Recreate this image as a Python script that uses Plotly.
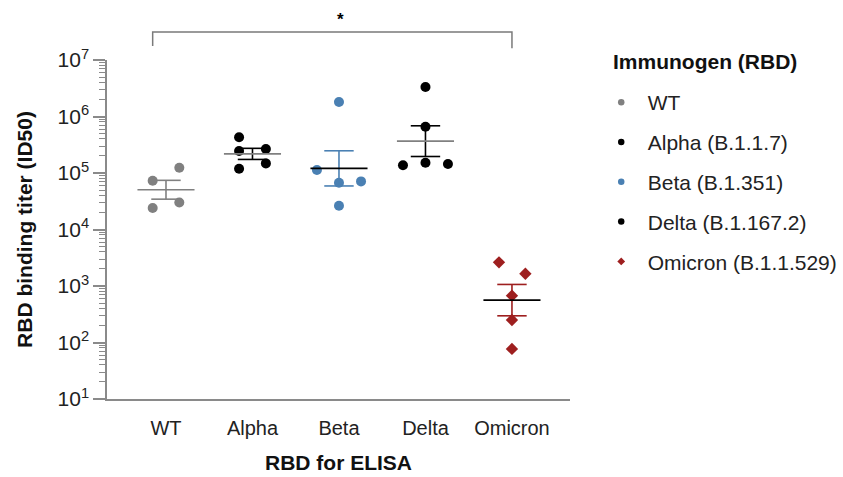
import numpy as np
import plotly.graph_objects as go

categories = ["WT", "Alpha", "Beta", "Delta", "Omicron"]
legend_names = ["WT", "Alpha (B.1.1.7)", "Beta (B.1.351)", "Delta (B.1.167.2)", "Omicron (B.1.1.529)"]

wt_vals = [1.24e5, 7.3e4, 3.0e4, 2.4e4]
alpha_vals = [4.28e5, 2.45e5, 2.66e5, 1.19e5, 1.48e5]
beta_vals = [1.81e6, 1.13e5, 7.1e4, 6.7e4, 2.64e4]
delta_vals = [3.33e6, 6.6e5, 1.37e5, 1.52e5, 1.44e5]
omicron_vals = [2620, 1650, 675, 250, 77]

# horizontal scatter offsets within each category (category units)
wt_off = [0.154, -0.154, 0.154, -0.154]
alpha_off = [-0.155, -0.155, 0.155, -0.155, 0.155]
beta_off = [0.0, -0.255, 0.255, 0.0, 0.0]
delta_off = [0.0, 0.0, -0.26, 0.0, 0.26]
omicron_off = [-0.15, 0.155, 0.0, 0.0, 0.0]

values = [wt_vals, alpha_vals, beta_vals, delta_vals, omicron_vals]
offsets = [wt_off, alpha_off, beta_off, delta_off, omicron_off]
point_colors = ["#808080", "#000000", "#4a80b3", "#000000", "#9e1f1f"]
mean_colors = ["#808080", "#808080", "#000000", "#808080", "#000000"]
err_colors = ["#808080", "#000000", "#4a80b3", "#000000", "#9e1f1f"]
symbols = ["circle", "circle", "circle", "circle", "diamond"]

FONT = "Liberation Sans, Arial, sans-serif"
fig = go.Figure()

for i, (vals, offs) in enumerate(zip(values, offsets)):
    xs = [i + o for o in offs]
    fig.add_trace(go.Scatter(
        x=xs, y=vals, mode="markers", showlegend=False,
        marker=dict(color=point_colors[i], symbol=symbols[i],
                    size=10 if symbols[i] == "circle" else 9.5, line=dict(width=0)),
        hoverinfo="y"))
    logs = np.log10(vals)
    m = logs.mean()
    s = logs.std(ddof=1) / np.sqrt(len(logs))
    cw = 0.17
    ex = [i, i, None, i - cw, i + cw, None, i - cw, i + cw]
    ey = [10 ** (m - s), 10 ** (m + s), None, 10 ** (m + s), 10 ** (m + s), None, 10 ** (m - s), 10 ** (m - s)]
    fig.add_trace(go.Scatter(x=ex, y=ey, mode="lines", showlegend=False,
                             line=dict(color=err_colors[i], width=1.6), hoverinfo="skip"))
    mw = 0.33
    fig.add_trace(go.Scatter(x=[i - mw, i + mw], y=[10 ** m, 10 ** m], mode="lines", showlegend=False,
                             line=dict(color=mean_colors[i], width=1.6), hoverinfo="skip"))

# legend-only entries
for i, name in enumerate(legend_names):
    fig.add_trace(go.Scatter(
        x=[None], y=[None], mode="markers", name=name, legendgroup=name,
        marker=dict(color=point_colors[i], symbol=symbols[i], size=6.5 if symbols[i] == "circle" else 6)))

axis_col = "#8a8a8a"
fig.update_yaxes(
    type="log", range=[1, 7],
    tickmode="array", tickvals=[10 ** k for k in range(1, 8)],
    ticktext=[f"10<sup>{k}</sup>" for k in range(1, 8)],
    ticks="outside", ticklen=12, tickwidth=1.5, tickcolor=axis_col,
    showline=True, linecolor=axis_col, linewidth=1.5,
    showgrid=False, zeroline=False,
    minor=dict(ticks="outside", ticklen=6, tickwidth=1.2, tickcolor=axis_col, dtick="D1", showgrid=False),
    tickfont=dict(family=FONT, size=21, color="#222"),
    title=dict(text="<b>RBD binding titer (ID50)</b>", font=dict(family=FONT, size=21, color="#111"), standoff=19),
)
fig.update_xaxes(
    range=[-0.682, 4.671], tickmode="array", tickvals=list(range(5)), ticktext=categories,
    ticks="", showline=True, linecolor=axis_col, linewidth=1.5, showgrid=False, zeroline=False,
    tickfont=dict(family=FONT, size=20, color="#222"), ticklabelstandoff=10,
    title=dict(text="<b>RBD for ELISA</b>", font=dict(family=FONT, size=21, color="#111"), standoff=18),
)

# significance bracket
bcol = "#7a7a7a"
fig.add_shape(type="path", xref="x", yref="paper",
              path="M -0.154,1.041 L -0.154,1.0826 L 4,1.0826 L 4,1.035",
              line=dict(color=bcol, width=1.5))
fig.add_annotation(x=2.02, y=1.118, xref="x", yref="paper", yanchor="middle", text="<b>*</b>", showarrow=False,
                   font=dict(family=FONT, size=17, color="#000"))

# legend title
fig.add_annotation(x=1.0885, y=0.997, xref="paper", yref="paper", xanchor="left", yanchor="middle",
                   text="<b>Immunogen (RBD)</b>", showarrow=False,
                   font=dict(family=FONT, size=21, color="#111"))

fig.update_layout(
    width=843, height=477,
    margin=dict(l=107, r=273, t=60, b=78, autoexpand=False),
    plot_bgcolor="white", paper_bgcolor="white",
    legend=dict(
        font=dict(family=FONT, size=21, color="#222"),
        x=1.0534, xanchor="left", y=0.935, yanchor="top",
        tracegroupgap=9.5, itemsizing="trace", itemwidth=43, maxheight=1.0,
    ),
)

fig.write_html("out.html")
